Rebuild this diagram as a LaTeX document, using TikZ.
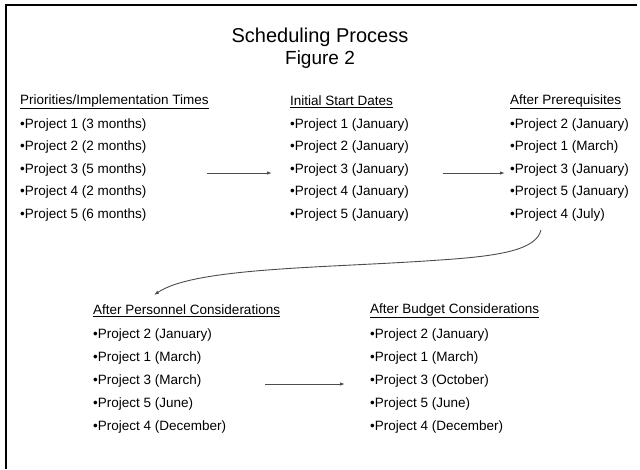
\documentclass[tikz,border=0pt]{standalone}
\usepackage{fontspec}
\setmainfont{Liberation Sans}
\usetikzlibrary{arrows.meta}

\tikzset{
  hd/.style={anchor=west,inner sep=0pt,font=\fontsize{13.5}{16}\selectfont},
  itm/.style={anchor=west,inner sep=0pt,font=\fontsize{13.5}{16}\selectfont},
  flow/.style={draw=black!70,line width=.9pt,-{Latex[length=5pt,width=3.5pt]}}
}

\begin{document}
\begin{tikzpicture}[x=1pt,y=-1pt]
  \useasboundingbox (0,0) rectangle (640,469);
  \draw[line width=2pt] (637,5) -- (6,5) -- (6,469);
  \node[font=\fontsize{20}{24}\selectfont] (title) at (320,37) {Scheduling Process};
  \node[font=\fontsize{19}{22}\selectfont] (fig) at (320,60) {Figure 2};
  % top row
  \node[hd] (prio) at (20,102) {\underline{Priorities/Implementation Times}};
  \foreach \t [count=\i] in {1 (3 months),2 (2 months),3 (5 months),4 (2 months),5 (6 months)}
    \node[itm] (prio-\i) at (20,102.5+22.5*\i) {•Project \t};
  \node[hd] (init) at (290,102) {\underline{Initial Start Dates}};
  \foreach \t [count=\i] in {1,2,3,4,5}
    \node[itm] (init-\i) at (290,102.5+22.5*\i) {•Project \t\ (January)};
  \node[hd] (prereq) at (510,102) {\underline{After Prerequisites}};
  \foreach \t [count=\i] in {2 (January),1 (March),3 (January),5 (January),4 (July)}
    \node[itm] (prereq-\i) at (510,102.5+22.5*\i) {•Project \t};
  % bottom row
  \node[hd] (pers) at (93,311) {\underline{After Personnel Considerations}};
  \foreach \t [count=\i] in {2 (January),1 (March),3 (March),5 (June),4 (December)}
    \node[itm] (pers-\i) at (93,312+23*\i) {•Project \t};
  \node[hd] (budget) at (370,311) {\underline{After Budget Considerations}};
  \foreach \t [count=\i] in {2 (January),1 (March),3 (October),5 (June),4 (December)}
    \node[itm] (budget-\i) at (370,312+23*\i) {•Project \t};
  % arrows
  \coordinate (a1) at (207,173); \coordinate (b1) at (272,173);
  \coordinate (a2) at (443,173); \coordinate (b2) at (505,173);
  \coordinate (a3) at (265,384); \coordinate (b3) at (345,384);
  \draw[flow] (a1) -- (b1); \draw[flow] (a2) -- (b2); \draw[flow] (a3) -- (b3);
  \coordinate (c1) at (541,230); \coordinate (c2) at (154,295);
  \draw[flow] (c1) .. controls (536,250) and (500,256) .. (440,260)
    .. controls (330,268) and (195,267) .. (c2);
\end{tikzpicture}
\end{document}
